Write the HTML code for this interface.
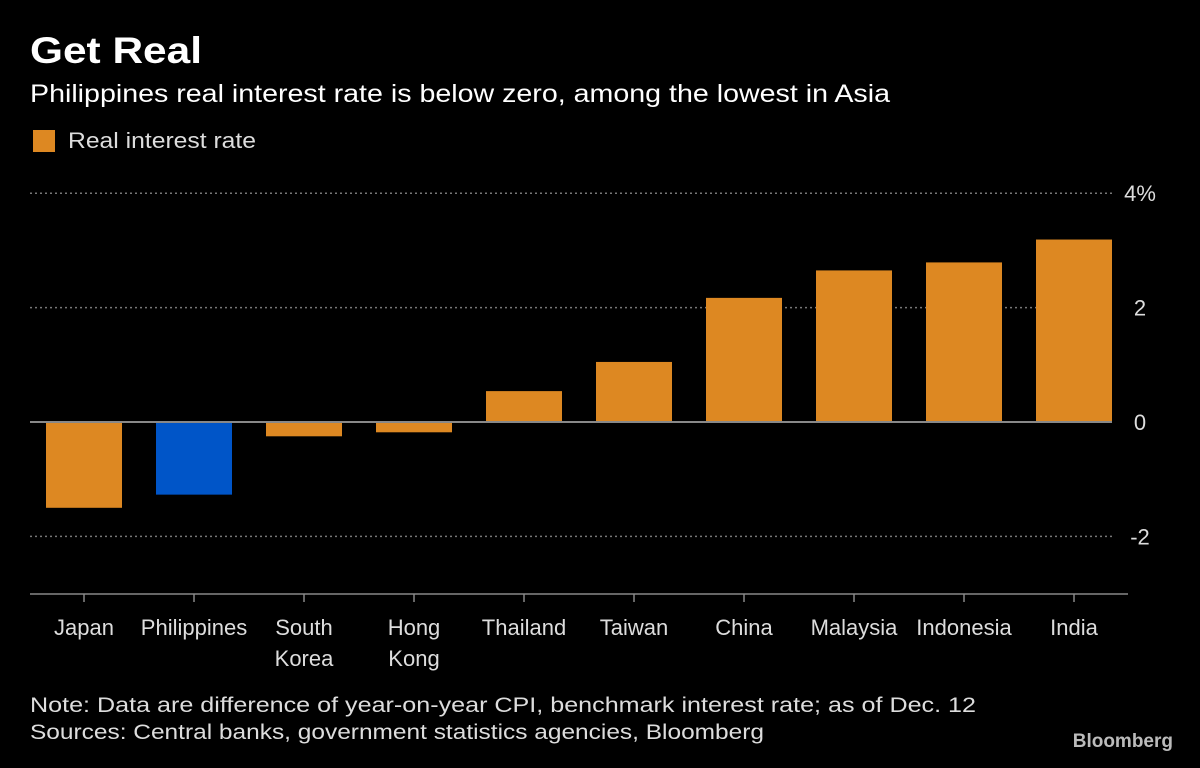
<!DOCTYPE html>
<html><head><meta charset="utf-8"><style>
body{margin:0;background:#000;width:1200px;height:763px;overflow:hidden;font-family:"Liberation Sans",sans-serif;color:#fff}
</style></head><body>
<svg width="1200" height="763" xmlns="http://www.w3.org/2000/svg">
<text x="30" y="63" font-size="37" font-weight="bold" fill="#fff" textLength="172" lengthAdjust="spacingAndGlyphs">Get Real</text>
<text x="30" y="102" font-size="25" fill="#fff" textLength="860" lengthAdjust="spacingAndGlyphs">Philippines real interest rate is below zero, among the lowest in Asia</text>
<rect x="33" y="130" width="22" height="22" fill="#dd8822"/>
<text x="68" y="148" font-size="22" fill="#ddd" textLength="188" lengthAdjust="spacingAndGlyphs">Real interest rate</text>
<g id="grid"></g><g id="bars"></g><g id="xaxis"></g>
<text x="30" y="712" font-size="21" fill="#ddd" textLength="946" lengthAdjust="spacingAndGlyphs">Note: Data are difference of year-on-year CPI, benchmark interest rate; as of Dec. 12</text>
<text x="30" y="739" font-size="21" fill="#ddd" textLength="734" lengthAdjust="spacingAndGlyphs">Sources: Central banks, government statistics agencies, Bloomberg</text>
<text x="1173" y="747" font-size="19" font-weight="bold" fill="#bbb" text-anchor="end">Bloomberg</text>
</svg>
<script>
const categories=[["Japan"],["Philippines"],["South","Korea"],["Hong","Kong"],["Thailand"],["Taiwan"],["China"],["Malaysia"],["Indonesia"],["India"]];
const values=[-1.5,-1.27,-0.25,-0.18,0.54,1.05,2.17,2.65,2.79,3.19];
const highlight=[false,true,false,false,false,false,false,false,false,false];
const ticks=[4,2,0,-2];
const tickLabels=["4%","2","0","-2"];
const NS="http://www.w3.org/2000/svg";
const y=v=>422-v*57.2;
const x=i=>84+i*110;
function mk(t,a,p){const e=document.createElementNS(NS,t);for(const k in a)e.setAttribute(k,a[k]);p.appendChild(e);return e;}
const g=document.getElementById('grid'),b=document.getElementById('bars'),xa=document.getElementById('xaxis');
ticks.forEach((t,i)=>{
 const l=mk('line',{x1:30,x2:1112,y1:y(t),y2:y(t),stroke:t===0?'#888':'#777','stroke-width':t===0?2:1.5,'stroke-dasharray':t===0?'':'2,3'},g);
 
 
 const tx=mk('text',{x:1140,y:y(t)+8,'font-size':22,fill:'#ddd','text-anchor':'middle'},g);
 tx.textContent=tickLabels[i];
 
 
});
values.forEach((v,i)=>{
 const r=mk('rect',{x:x(i)-38,width:76,y:Math.min(y(v),y(0)),height:Math.abs(y(v)-y(0)),fill:highlight[i]?'#0055c8':'#dd8822'},b);
 
 
 const tk=mk('line',{x1:x(i),x2:x(i),y1:594,y2:602,stroke:'#888','stroke-width':1.5},xa);
 
 
 categories[i].forEach((s,j)=>{
  const t=mk('text',{x:x(i),y:635+j*31,'font-size':22,fill:'#ddd','text-anchor':'middle'},xa);
  t.textContent=s;
  
  
 });
});
const zl=mk('line',{x1:30,x2:1112,y1:y(0),y2:y(0),stroke:'#888','stroke-width':2},b);


const ax=mk('line',{x1:30,x2:1128,y1:594,y2:594,stroke:'#888','stroke-width':1.5},xa);


</script>
</body></html>
